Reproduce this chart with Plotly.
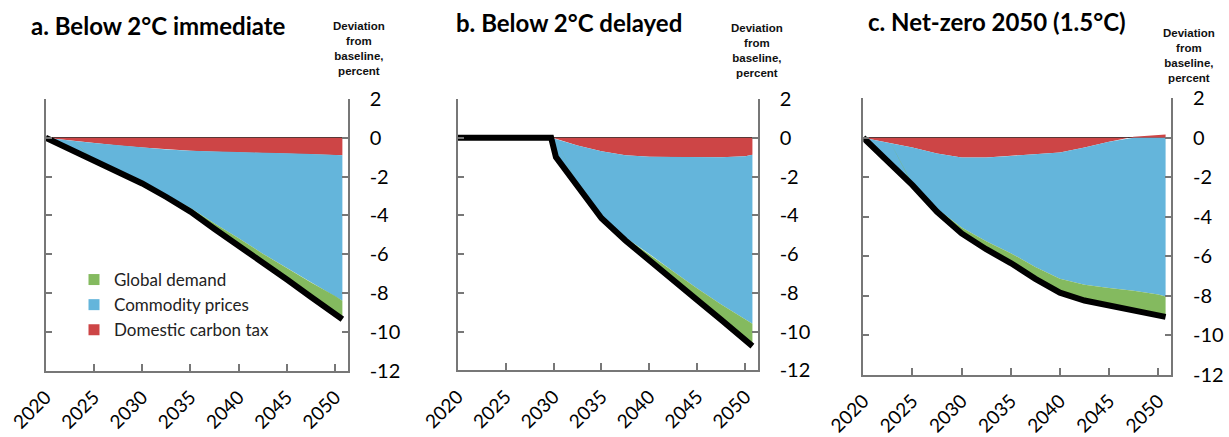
import plotly.graph_objects as go
import numpy as np

# ---------------- data ----------------
years_a = [2020, 2022.5, 2025, 2027.5, 2030, 2032.5, 2035, 2037.5, 2040, 2042.5, 2045, 2047.5, 2050, 2050.75]
carbon_tax_a = [0, -0.14, -0.27, -0.40, -0.50, -0.60, -0.67, -0.72, -0.75, -0.77, -0.80, -0.84, -0.88, -0.90]
commodity_a = [0, -0.46, -0.86, -1.30, -1.77, -2.33, -2.95, -3.70, -4.42, -5.20, -5.90, -6.61, -7.27, -7.50]
demand_a = [0, 0, -0.02, -0.05, -0.08, -0.12, -0.18, -0.28, -0.38, -0.48, -0.60, -0.75, -0.90, -0.95]
total_a = [0, -0.60, -1.15, -1.75, -2.35, -3.05, -3.80, -4.70, -5.55, -6.45, -7.30, -8.20, -9.05, -9.35]

years_b = [2020, 2025, 2029.75, 2030.25, 2032.5, 2035, 2037.5, 2040, 2042.5, 2045, 2047.5, 2050, 2050.75]
carbon_tax_b = [0, 0, 0, -0.05, -0.40, -0.70, -0.90, -0.98, -1.00, -1.00, -1.00, -0.95, -0.88]
commodity_b = [0, 0, 0, -0.95, -2.08, -3.40, -4.25, -5.02, -5.90, -6.78, -7.60, -8.42, -8.72]
demand_b = [0, 0, 0, 0, -0.02, -0.05, -0.15, -0.30, -0.45, -0.60, -0.80, -1.05, -1.15]
total_b = [0, 0, 0, -1.00, -2.50, -4.15, -5.30, -6.30, -7.35, -8.38, -9.40, -10.42, -10.75]

years_c = [2020, 2022.5, 2025, 2027.5, 2030, 2032.5, 2035, 2037.5, 2040, 2042.5, 2045, 2047.5, 2050, 2050.75]
carbon_tax_c = [0, -0.25, -0.50, -0.80, -1.00, -1.00, -0.92, -0.85, -0.75, -0.50, -0.20, 0.05, 0.15, 0.17]
commodity_c = [0, -0.90, -1.85, -2.80, -3.55, -4.25, -4.93, -5.70, -6.40, -6.95, -7.42, -7.75, -7.95, -8.05]
demand_c = [0, 0, -0.05, -0.15, -0.30, -0.40, -0.50, -0.60, -0.70, -0.80, -0.88, -0.93, -0.97, -1.00]
total_c = [0, -1.15, -2.40, -3.75, -4.85, -5.65, -6.35, -7.15, -7.85, -8.25, -8.50, -8.70, -8.95, -9.08]

panel_titles = ["a. Below 2°C immediate", "b. Below 2°C delayed", "c. Net-zero 2050 (1.5°C)"]
series_names = ["Global demand", "Commodity prices", "Domestic carbon tax"]
x_tick_vals = [2020, 2025, 2030, 2035, 2040, 2045, 2050]
x_tick_text = ["2020", "2025", "2030", "2035", "2040", "2045", "2050"]
y_tick_vals = [2, 0, -2, -4, -6, -8, -10, -12]
y_tick_text = ["2", "0", "-2", "-4", "-6", "-8", "-10", "-12"]
unit_label = "Deviation<br>from<br>baseline,<br>percent"

# ---------------- styling ----------------
RED = "#CD4546"
BLUE = "#64B5DB"
GREEN = "#84BA5F"
AXIS = "#777777"
FONT = "Lato"
W, H = 1229, 437

panels = [
    dict(x=years_a, comps=[carbon_tax_a, commodity_a, demand_a], total=total_a,
         xd=(45.7, 347.7), yd=(99, 370.7), title_x=29, title_y=25, unit_x=359, unit_y=48.5),
    dict(x=years_b, comps=[carbon_tax_b, commodity_b, demand_b], total=total_b,
         xd=(457.7, 757.7), yd=(99, 370.3), title_x=454, title_y=23, unit_x=757, unit_y=50.5),
    dict(x=years_c, comps=[carbon_tax_c, commodity_c, demand_c], total=total_c,
         xd=(863.3, 1171), yd=(98.3, 374.5), title_x=866, title_y=22, unit_x=1189, unit_y=55),
]
comp_colors = [RED, BLUE, GREEN]

fig = go.Figure()

for i, p in enumerate(panels):
    xa = "x" if i == 0 else f"x{i+1}"
    ya = "y" if i == 0 else f"y{i+1}"
    x = np.array(p["x"], dtype=float)
    pos_cum = np.zeros_like(x)
    neg_cum = np.zeros_like(x)
    for vals, col in zip(p["comps"], comp_colors):
        v = np.array(vals, dtype=float)
        lower = np.where(v >= 0, pos_cum, neg_cum)
        upper = lower + v
        pos_cum = np.where(v >= 0, pos_cum + v, pos_cum)
        neg_cum = np.where(v < 0, neg_cum + v, neg_cum)
        fig.add_trace(go.Scatter(
            x=np.concatenate([x, x[::-1]]), y=np.concatenate([upper, lower[::-1]]),
            fill="toself", fillcolor=col, mode="lines", line=dict(width=0, color=col),
            showlegend=False, hoverinfo="skip", xaxis=xa, yaxis=ya))
    fig.add_trace(go.Scatter(x=x, y=p["total"], mode="lines",
                             line=dict(color="black", width=6), showlegend=False,
                             xaxis=xa, yaxis=ya))

    xk = "xaxis" if i == 0 else f"xaxis{i+1}"
    yk = "yaxis" if i == 0 else f"yaxis{i+1}"
    fig.update_layout(**{
        xk: dict(domain=[p["xd"][0] / W, p["xd"][1] / W], anchor=ya, automargin=False,
                 range=[2020, 2051.3], tickvals=x_tick_vals, ticktext=x_tick_text,
                 tickangle=-45, ticks="inside", ticklen=7, tickwidth=1.5, tickcolor=AXIS,
                 showline=True, linecolor=AXIS, linewidth=2, showgrid=False, zeroline=False,
                 tickfont=dict(family=FONT, size=19, color="black"), ticklabelstandoff=6),
        yk: dict(domain=[1 - p["yd"][1] / H, 1 - p["yd"][0] / H], anchor=xa, side="right",
                 automargin=False,
                 range=[-12, 2], tickvals=y_tick_vals, ticktext=y_tick_text,
                 ticks="inside", ticklen=6, tickwidth=1.5, tickcolor=AXIS,
                 showline=True, linecolor=AXIS, linewidth=2, mirror="ticks",
                 showgrid=False, zeroline=True, zerolinecolor="#333333", zerolinewidth=1,
                 layer="above traces",
                 tickfont=dict(family=FONT, size=20, color="black"), ticklabelstandoff=16),
    })
    fig.add_annotation(text="<b>" + panel_titles[i] + "</b>", xref="paper", yref="paper",
                       x=p["title_x"] / W, y=1 - p["title_y"] / H, xanchor="left", yanchor="middle",
                       showarrow=False, font=dict(family=FONT, size=24, color="black"))
    fig.add_annotation(text="<b>" + unit_label + "</b>", xref="paper", yref="paper",
                       x=p["unit_x"] / W, y=1 - p["unit_y"] / H, xanchor="center", yanchor="middle",
                       align="center", showarrow=False,
                       font=dict(family="Liberation Sans", size=11.5, color="#111111"))

# legend entries (order as in the reference)
for name, col in zip(series_names, [GREEN, BLUE, RED]):
    fig.add_trace(go.Scatter(x=[None], y=[None], mode="markers", name=name,
                             marker=dict(symbol="square", size=11, color=col),
                             xaxis="x", yaxis="y"))

fig.update_layout(
    width=W, height=H, margin=dict(l=0, r=0, t=0, b=0, autoexpand=False),
    paper_bgcolor="white", plot_bgcolor="white",
    showlegend=True,
    legend=dict(x=74 / W, y=1 - 262 / H, xanchor="left", yanchor="top",
                bgcolor="rgba(0,0,0,0)", itemwidth=30, tracegroupgap=0,
                font=dict(family=FONT, size=17, color="#222222")),
)

fig.write_html("out.html", config={"displayModeBar": False},
               post_script="document.body.style.margin='0';document.body.style.overflow='hidden';")
